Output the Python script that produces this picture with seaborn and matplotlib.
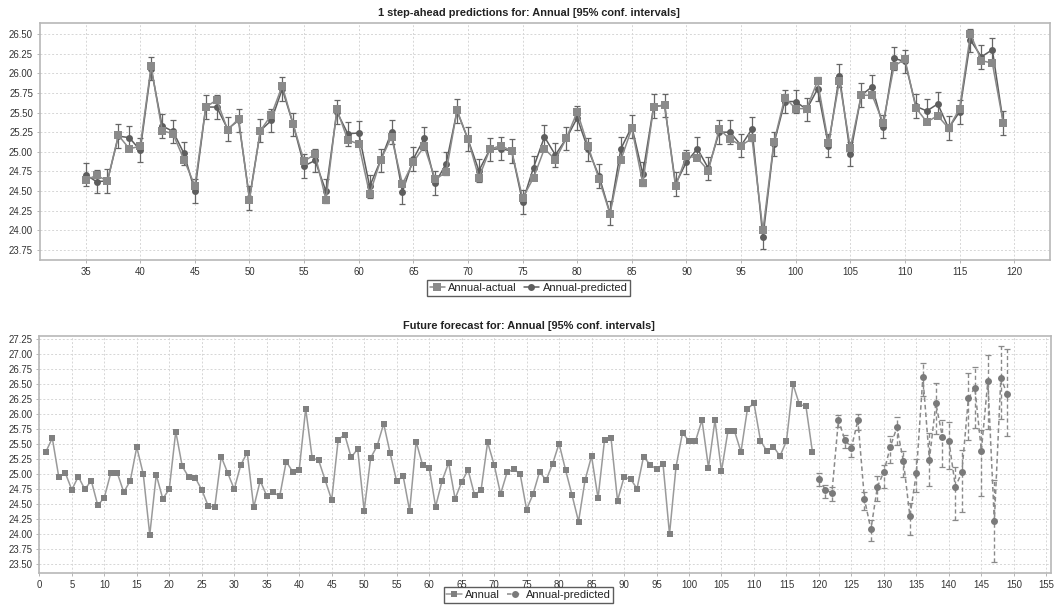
import numpy as np
import pandas as pd
import matplotlib
matplotlib.use("Agg")
import matplotlib.pyplot as plt
import seaborn as sns

# observed annual series, years 1..119
years = list(range(1, 120))
annual = [25.37, 25.60, 24.95, 25.02, 24.74, 24.96, 24.75, 24.89, 24.48, 24.61,
          25.02, 25.02, 24.70, 24.89, 25.45, 25.00, 23.99, 24.99, 24.59, 24.75,
          25.71, 25.13, 24.95, 24.94, 24.74, 24.47, 24.45, 25.29, 25.02, 24.75,
          25.15, 25.36, 24.45, 24.89, 24.64, 24.70, 24.63, 25.21, 25.04, 25.07,
          26.09, 25.27, 25.23, 24.90, 24.57, 25.57, 25.66, 25.28, 25.42, 24.39,
          25.27, 25.47, 25.84, 25.35, 24.88, 24.97, 24.39, 25.54, 25.15, 25.10,
          24.46, 24.89, 25.19, 24.59, 24.87, 25.07, 24.65, 24.74, 25.53, 25.16,
          24.67, 25.03, 25.08, 25.01, 24.41, 24.67, 25.04, 24.90, 25.17, 25.51,
          25.07, 24.65, 24.21, 24.90, 25.30, 24.60, 25.57, 25.60, 24.56, 24.95,
          24.92, 24.76, 25.29, 25.16, 25.08, 25.17, 24.00, 25.12, 25.69, 25.55,
          25.55, 25.90, 25.11, 25.90, 25.05, 25.72, 25.72, 25.37, 26.09, 26.18,
          25.56, 25.38, 25.46, 25.30, 25.55, 26.50, 26.16, 26.13, 25.37]

# 1 step-ahead predictions, years 35..119
pred_years = list(range(35, 120))
annual_pred = [24.71, 24.62, 24.63, 25.20, 25.18, 25.02, 26.06, 25.33, 25.26, 24.98,
               24.50, 25.57, 25.57, 25.29, 25.40, 24.41, 25.27, 25.40, 25.80, 25.35,
               24.82, 24.89, 24.50, 25.51, 25.23, 25.24, 24.56, 24.89, 25.25, 24.49,
               24.91, 25.17, 24.60, 24.85, 25.52, 25.16, 24.76, 25.03, 25.04, 25.01,
               24.36, 24.80, 25.19, 24.96, 25.17, 25.43, 25.03, 24.69, 24.22, 25.04,
               25.32, 24.72, 25.58, 25.59, 24.59, 24.87, 25.04, 24.79, 25.25, 25.25,
               25.08, 25.29, 23.91, 25.10, 25.64, 25.64, 25.54, 25.80, 25.08, 25.97,
               24.97, 25.72, 25.83, 25.32, 26.19, 26.15, 25.58, 25.52, 25.61, 25.30,
               25.51, 26.42, 26.21, 26.30, 25.37]
pred_halfwidth = 0.15

# future forecast, years 120..149
fc_years = list(range(120, 150))
fc_pred = [24.92, 24.74, 24.69, 25.90, 25.57, 25.44, 25.90, 24.59, 24.08, 24.79,
           25.04, 25.46, 25.78, 25.22, 24.30, 25.02, 26.62, 25.24, 26.18, 25.62,
           25.56, 24.79, 25.03, 26.26, 26.44, 25.39, 26.55, 24.22, 26.60, 26.33]
fc_lower = [24.80, 24.60, 24.55, 25.78, 25.43, 25.29, 25.73, 24.41, 23.89, 24.55,
            24.77, 25.19, 25.49, 24.96, 23.99, 24.70, 26.30, 24.81, 25.67, 25.12,
            25.09, 24.23, 24.37, 25.57, 25.77, 24.64, 25.75, 23.54, 25.91, 25.64]
fc_upper = [25.02, 24.82, 24.79, 25.99, 25.65, 25.51, 26.00, 24.71, 24.24, 24.97,
            25.16, 25.63, 25.95, 25.39, 24.52, 25.25, 26.85, 25.68, 26.51, 25.90,
            25.86, 25.12, 25.41, 26.69, 26.79, 25.74, 26.98, 24.90, 27.13, 27.08]

df_act = pd.DataFrame({"year": years, "value": annual})
df_pred = pd.DataFrame({"year": pred_years, "value": annual_pred})
df_fc = pd.DataFrame({"year": fc_years, "value": fc_pred,
                      "lo": fc_lower, "hi": fc_upper})

sns.set_theme(style="white")
plt.rcParams["font.family"] = ["Liberation Sans", "DejaVu Sans"]

fig = plt.figure(figsize=(10.57, 6.10), dpi=100)
ax1 = fig.add_axes([0.0378, 0.5738, 0.9555, 0.389])
ax2 = fig.add_axes([0.0372, 0.0602, 0.957, 0.389])

c_act = "#8a8a8a"
c_pred = "#5e5e5e"

# ---- top: 1 step-ahead ----
df_top = df_act[df_act["year"] >= 35]
ax1.errorbar(df_pred["year"], df_pred["value"], yerr=pred_halfwidth, fmt="none",
             ecolor="#666666", elinewidth=0.9, capsize=2.5, capthick=0.9, zorder=2)
sns.lineplot(data=df_pred, x="year", y="value", ax=ax1, color=c_pred, marker="o",
             markersize=5, mec=c_pred, mew=0, lw=1.1, label="Annual-predicted", zorder=3)
sns.lineplot(data=df_top, x="year", y="value", ax=ax1, color=c_act, marker="s",
             markersize=5.5, mec=c_act, mew=0, lw=1.1, label="Annual-actual", zorder=4)

ax1.set_xlim(30.82, 123.27)
ax1.set_ylim(23.623, 26.644)
ax1.set_xticks(np.arange(35, 121, 5))
ax1.set_yticks(np.arange(23.75, 26.51, 0.25))

# ---- bottom: future forecast ----
sns.lineplot(data=df_act, x="year", y="value", ax=ax2, color="#9a9a9a", marker="s",
             markersize=5, mec="#808080", mfc="#808080", mew=0, lw=1.1,
             label="Annual", zorder=3)
eb = ax2.errorbar(df_fc["year"], df_fc["value"],
                  yerr=[df_fc["value"] - df_fc["lo"], df_fc["hi"] - df_fc["value"]],
                  fmt="none", ecolor="#8a8a8a", elinewidth=1.0, capsize=2.5,
                  capthick=0.9, zorder=2)
for lc in eb[2]:
    lc.set_linestyle((0, (3, 2)))
sns.lineplot(data=df_fc, x="year", y="value", ax=ax2, color="#8a8a8a", marker="o",
             markersize=5, mec="#7a7a7a", mfc="#7a7a7a", mew=0, lw=1.1,
             linestyle=(0, (3, 2)), label="Annual-predicted", zorder=3)

ax2.set_xlim(0, 155.7)
ax2.set_ylim(23.35, 27.30)
ax2.set_xticks(np.arange(0, 156, 5))
ax2.set_yticks(np.arange(23.50, 27.26, 0.25))

for ax in (ax1, ax2):
    ax.set_xlabel("")
    ax.set_ylabel("")
    ax.grid(True, linestyle=(0, (2, 2)), color="#d6d6d6", linewidth=0.7)
    ax.set_axisbelow(True)
    ax.yaxis.set_major_formatter(matplotlib.ticker.FormatStrFormatter("%.2f"))
    ax.tick_params(axis="both", labelsize=6.9, labelcolor="#333333", length=2,
                   width=0.6, color="#aaaaaa", pad=3, bottom=True, left=True)
    for sp in ax.spines.values():
        sp.set_color("#b8b8b8")
        sp.set_linewidth(1.2)
    ax.get_legend().remove()

# legends below plots, centered on the figure
h1, l1 = ax1.get_legend_handles_labels()
order = [l1.index("Annual-actual"), l1.index("Annual-predicted")]
leg_kw = dict(loc="upper center", ncol=2, fontsize=8, frameon=True, fancybox=False,
              edgecolor="#333333", borderpad=0.25, handlelength=1.4,
              handletextpad=0.3, columnspacing=0.6, borderaxespad=0)
lg1 = fig.legend([h1[i] for i in order], [l1[i] for i in order],
                 bbox_to_anchor=(0.5, 1 - 280 / 610), **leg_kw)
h2, l2 = ax2.get_legend_handles_labels()
lg2 = fig.legend(h2, l2, bbox_to_anchor=(0.5, 1 - 587 / 610), **leg_kw)
for lg in (lg1, lg2):
    lg.get_frame().set_linewidth(1.0)
    for t in lg.get_texts():
        t.set_color("#222222")

fig.text(0.5, 1 - 12.5 / 610, "1 step-ahead predictions for: Annual [95% conf. intervals]",
         ha="center", va="center", fontsize=7.9, fontweight="bold", color="#222222")
fig.text(0.5, 1 - 326 / 610, "Future forecast for: Annual [95% conf. intervals]",
         ha="center", va="center", fontsize=7.9, fontweight="bold", color="#222222")

fig.savefig("out.png", dpi=100)
